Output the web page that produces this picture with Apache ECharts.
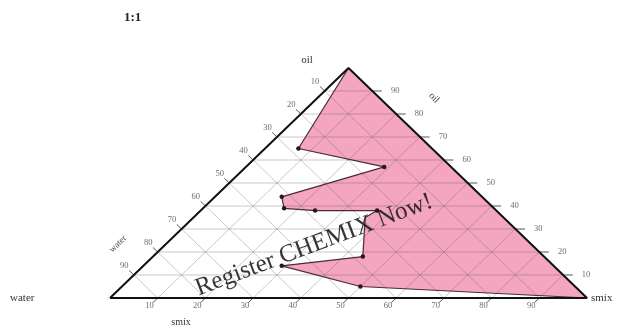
<!DOCTYPE html>
<html>
<head>
<meta charset="utf-8">
<script src="https://cdn.jsdelivr.net/npm/echarts@6/dist/echarts.min.js"></script>
<style>
html,body{margin:0;padding:0;background:#fff;}
#chart{width:626px;height:328px;}
</style>
</head>
<body>
<div id="chart"></div>
<script>
// Ternary phase diagram: water / oil / smix (1:1), compositions in %
const tickValues = [10, 20, 30, 40, 50, 60, 70, 80, 90];

// Phase boundary points, from the oil corner towards the smix corner
const boundaryWater = [0, 28, 14, 42, 44, 38, 25, 29, 38, 57, 45, 0];
const boundaryOil   = [100, 65, 57, 44, 39, 38, 38, 35, 18, 14, 5, 0];
const boundarySmix  = [0, 7, 29, 14, 17, 24, 37, 36, 44, 29, 50, 100];
// which boundary points carry a marker
const boundaryMarked = [false, true, true, true, true, true, true, false, true, true, true, false];

// (water, oil, smix) -> plane coordinates: smix runs along the base, oil upward
function toXY(w, o, s) {
  return [s + o / 2, o];
}

const boundaryXY = boundaryWater.map((w, i) => toXY(w, boundaryOil[i], boundarySmix[i]));
// single-phase region: boundary, then back along the oil–smix edge
const regionXY = boundaryXY.slice();

const gridSegs = [];
const tickSegs = [];
tickValues.forEach(k => {
  gridSegs.push(toXY(100 - k, k, 0).concat(toXY(0, k, 100 - k)));
  gridSegs.push(toXY(k, 100 - k, 0).concat(toXY(k, 0, 100 - k)));
  gridSegs.push(toXY(100 - k, 0, k).concat(toXY(0, 100 - k, k)));
  tickSegs.push(toXY(0, k, 100 - k).concat(toXY(-2, k, 102 - k)));
  tickSegs.push(toXY(k, 100 - k, 0).concat(toXY(k, 102 - k, -2)));
  tickSegs.push(toXY(100 - k, 0, k).concat(toXY(102 - k, -2, k)));
});

const oilLabels = tickValues.map(k => ({ value: toXY(-4.8, k, 104.8 - k), name: String(k) }));
const waterLabels = tickValues.map(k => ({ value: toXY(k, 104 - k, -4), name: String(k) }));
const smixLabels = tickValues.map(k => ({ value: toXY(103.4 - k, -3.4, k), name: String(k) }));

const edgeXY = [toXY(100, 0, 0), toXY(0, 100, 0), toXY(0, 0, 100), toXY(100, 0, 0)];

const serif = '"Liberation Serif", "DejaVu Serif", serif';

function segRender(color, width) {
  return function (params, api) {
    const p1 = api.coord([api.value(0), api.value(1)]);
    const p2 = api.coord([api.value(2), api.value(3)]);
    return {
      type: 'line',
      shape: { x1: p1[0], y1: p1[1], x2: p2[0], y2: p2[1] },
      style: { stroke: color, lineWidth: width }
    };
  };
}

const labelSeries = (data) => ({
  type: 'scatter',
  data: data,
  symbolSize: 0,
  clip: false,
  silent: true,
  z: 6,
  label: {
    show: true,
    position: 'inside',
    formatter: p => p.name,
    fontFamily: serif,
    fontSize: 8.5,
    color: '#444'
  }
});

const chart = echarts.init(document.getElementById('chart'), null, { renderer: 'canvas' });
chart.setOption({
  animation: false,
  backgroundColor: '#ffffff',
  grid: { left: 110, right: 39, top: 68, bottom: 30 },
  xAxis: { type: 'value', min: 0, max: 100, show: false },
  yAxis: { type: 'value', min: 0, max: 100, show: false },
  series: [
    {
      type: 'custom',
      z: 1,
      silent: true,
      data: [0],
      renderItem: function (params, api) {
        const pts = regionXY.map(p => api.coord(p));
        return {
          type: 'polygon',
          shape: { points: pts },
          style: { fill: '#F4A5C0', stroke: 'none' }
        };
      }
    },
    {
      type: 'custom',
      z: 2,
      silent: true,
      data: gridSegs,
      renderItem: segRender('rgba(95,80,90,0.32)', 1)
    },
    {
      type: 'custom',
      z: 3,
      silent: true,
      data: tickSegs,
      renderItem: segRender('#555', 1)
    },
    {
      type: 'line',
      z: 4,
      clip: false,
      silent: true,
      data: boundaryXY.map((p, i) => ({
        value: p,
        symbolSize: boundaryMarked[i] ? 4.5 : 0
      })),
      symbol: 'circle',
      showAllSymbol: true,
      itemStyle: { color: '#2a1520' },
      lineStyle: { color: '#4a2a38', width: 1.2 }
    },
    {
      type: 'line',
      z: 5,
      clip: false,
      silent: true,
      data: edgeXY,
      symbol: 'none',
      lineStyle: { color: '#111', width: 2 }
    },
    labelSeries(oilLabels),
    labelSeries(waterLabels),
    labelSeries(smixLabels)
  ],
  graphic: [
    { type: 'text', left: 124, top: 11, style: { text: '1:1', font: 'bold 13px ' + serif, fill: '#222' } },
    { type: 'text', x: 307, y: 60, style: { text: 'oil', font: '11px ' + serif, fill: '#333', align: 'center', verticalAlign: 'middle' } },
    { type: 'text', x: 10, y: 298, style: { text: 'water', font: '11px ' + serif, fill: '#333', align: 'left', verticalAlign: 'middle' } },
    { type: 'text', x: 591, y: 298, style: { text: 'smix', font: '11px ' + serif, fill: '#333', align: 'left', verticalAlign: 'middle' } },
    { type: 'text', x: 181, y: 322, style: { text: 'smix', font: '10px ' + serif, fill: '#333', align: 'center', verticalAlign: 'middle' } },
    { type: 'text', x: 118, y: 244, rotation: 0.78, style: { text: 'water', font: '9px ' + serif, fill: '#444', align: 'center', verticalAlign: 'middle' } },
    { type: 'text', x: 434, y: 98, rotation: -0.8, style: { text: 'oil', font: '10px ' + serif, fill: '#444', align: 'center', verticalAlign: 'middle' } },
    { type: 'text', x: 314, y: 245, rotation: 0.36, z: 10, style: { text: 'Register CHEMIX Now!', font: '25px ' + serif, fill: 'rgba(25,25,25,0.88)', align: 'center', verticalAlign: 'middle' } }
  ]
});
</script>
</body>
</html>
